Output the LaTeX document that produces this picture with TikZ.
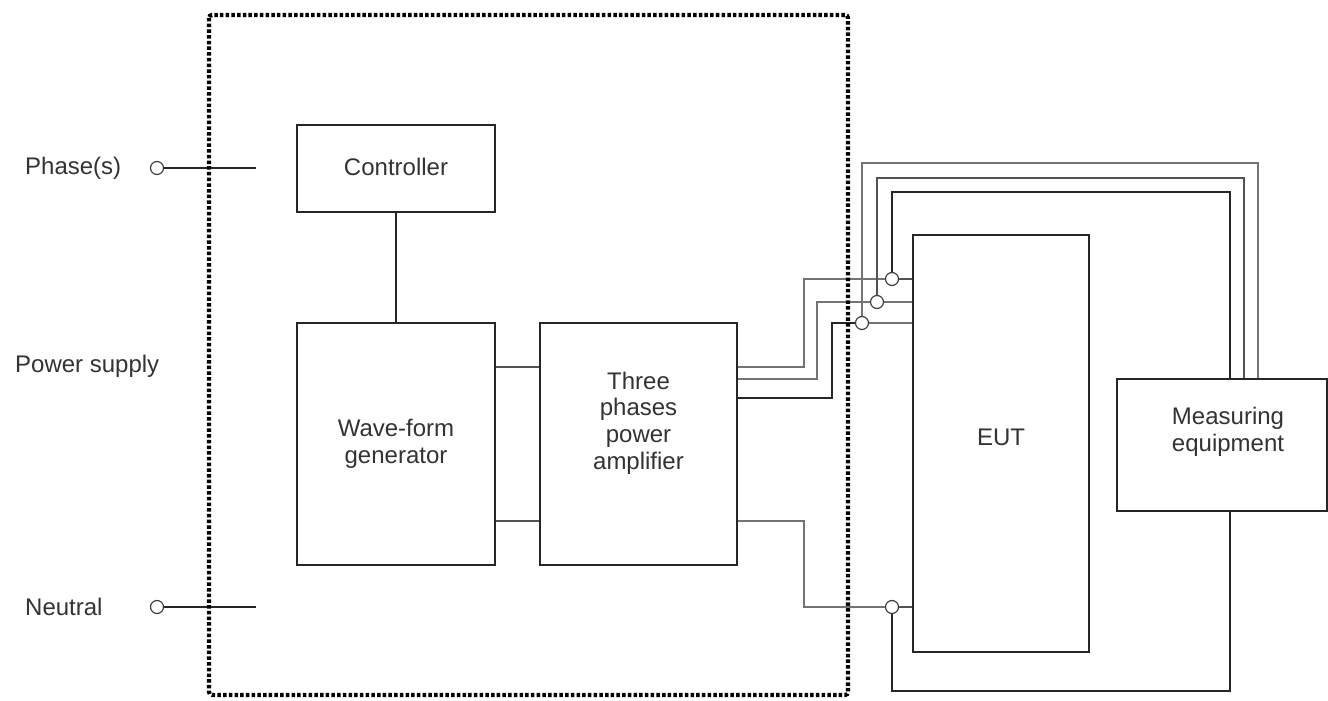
\documentclass[tikz,border=0pt]{standalone}
\usepackage{fontspec}
\setmainfont{Liberation Sans}
\begin{document}
\begin{tikzpicture}[x=1pt,y=-1pt,
  box/.style={draw=black!85, line width=1.8pt, inner sep=0pt},
  txt/.style={inner sep=0pt, align=center, text=black!80, font=\fontsize{24}{26.8}\selectfont},
  term/.style={circle, draw=black!75, line width=1.2pt, fill=white, minimum size=13pt, inner sep=0pt},
  wire/.style={line width=1.5pt, draw=black!85},
  wireg/.style={line width=1.5pt, draw=black!55},
  wirem/.style={line width=1.5pt, draw=black!68},
  lbl/.style={anchor=west, inner sep=0pt, text=black!80, font=\fontsize{24}{26.8}\selectfont}]
\useasboundingbox (0,0) rectangle (1328,701);
\fill[white] (0,0) rectangle (1328,701);

% blocks
\node[box, minimum width=198pt, minimum height=87pt] (ctrl) at (396,168.5) {};
\node[box, minimum width=198pt, minimum height=242pt] (wfg) at (396,444) {};
\node[box, minimum width=197pt, minimum height=242pt] (amp) at (638.5,444) {};
\node[box, minimum width=176pt, minimum height=417pt] (eut) at (1001,443.5) {};
\node[box, minimum width=210pt, minimum height=132pt] (me) at (1222,445) {};

% block texts
\node[txt] (ctrlt) at (396,167) {Controller};
\node[txt] (wfgt) at (396,444) {Wave-form\\generator};
\node[txt] (ampt) at (638.5,423) {Three\\phases\\power\\amplifier};
\node[txt] (eutt) at (1001,437) {EUT};
\node[txt] (met) at (1228,432) {Measuring\\equipment};

% left labels and terminals
\node[lbl] (ph) at (25,168) {Phase(s)};
\node[lbl] (ps) at (15,366) {Power supply};
\node[lbl] (ne) at (25,607) {Neutral};
\node[term] (tp) at (157,168) {};
\node[term] (tn) at (157,607) {};
\coordinate (tpe) at (256,168);
\coordinate (tne) at (256,607);
\draw[wire] (tp) -- (tpe);
\draw[wire] (tn) -- (tne);

% internal connections
\draw[wire] (ctrl.south) -- (wfg.north);
\draw[wirem] (wfg.east |- 0,367) -- (amp.west |- 0,367);
\draw[wirem] (wfg.east |- 0,521) -- (amp.west |- 0,521);

% terminals at EUT
\node[term] (c1) at (892,279) {};
\node[term] (c2) at (877,302) {};
\node[term] (c3) at (862,323) {};
\node[term] (c4) at (892,607) {};

% amplifier to EUT
\draw[wireg] (amp.east |- 0,367) -| (804,279) -- (c1);
\draw[wireg] (amp.east |- 0,379) -| (817,302) -- (c2);
\draw[wire] (amp.east |- 0,398) -| (832,323) -- (c3);
\draw[wireg] (amp.east |- 0,521) -| (804,607) -- (c4);
\draw[wirem] (c1) -- (eut.west |- c1);
\draw[wireg] (c2) -- (eut.west |- c2);
\draw[wireg] (c3) -- (eut.west |- c3);
\draw[wirem] (c4) -- (eut.west |- c4);

% measuring connections
\draw[wire] (c1) |- (1230,192) -- (1230,192 |- me.north);
\draw[wirem] (c2) |- (1244,178) -- (1244,178 |- me.north);
\draw[wireg] (c3) |- (1258,163) -- (1258,163 |- me.north);
\draw[wire] (c4) |- (1230,691) -- (1230,691 |- me.south);

% dotted enclosure
\draw[line width=4.2pt, dash pattern=on 3.5pt off 2.2pt, rounded corners=3pt] (209,15) rectangle (848,695);
\end{tikzpicture}
\end{document}
